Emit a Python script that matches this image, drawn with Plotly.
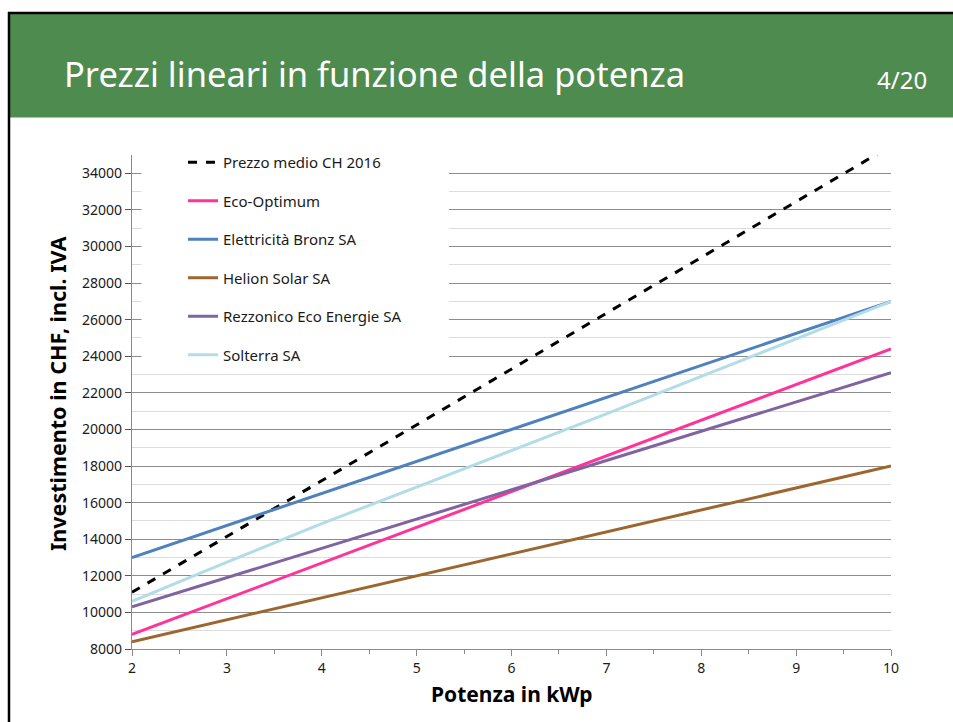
import plotly.graph_objects as go

# ---- data ----
potenza_kwp = [2, 3, 4, 5, 6, 7, 8, 9, 10]
prezzo_medio_ch_2016 = [11100, 14150, 17200, 20250, 23300, 26350, 29400, 32450, 35500]
eco_optimum = [8800, 10750, 12700, 14650, 16600, 18550, 20500, 22450, 24400]
elettricita_bronz = [13000, 14750, 16500, 18250, 20000, 21750, 23500, 25250, 27000]
helion_solar = [8400, 9600, 10800, 12000, 13200, 14400, 15600, 16800, 18000]
rezzonico_eco = [10300, 11900, 13500, 15100, 16700, 18300, 19900, 21500, 23100]
solterra = [10600, 12750, 14850, 16850, 18850, 20850, 22900, 24950, 27000]

series_names = ["Prezzo medio CH 2016", "Eco-Optimum", "Elettricità Bronz SA",
                "Helion Solar SA", "Rezzonico Eco Energie SA", "Solterra SA"]
series_values = [prezzo_medio_ch_2016, eco_optimum, elettricita_bronz,
                 helion_solar, rezzonico_eco, solterra]
series_colors = ["#000000", "#FF3399", "#4F81BD", "#9C6630", "#8064A2", "#B2DCE8"]
series_dash = ["dash", "solid", "solid", "solid", "solid", "solid"]

x_ticks = [2, 3, 4, 5, 6, 7, 8, 9, 10]
y_ticks = list(range(8000, 34001, 2000))

PAGE_W, PAGE_H = 953, 722
W, H = PAGE_W, PAGE_H
# plot area in page pixels
PL, PR, PT, PB = 132, 891, 155, 649
L, T = PL, PT
R, B = PAGE_W - PR, PAGE_H - PB
PW, PH = PR - PL, PB - PT


def px(xp):
    return (xp - PL) / PW


def py(yp):
    return (PB - yp) / PH


fig = go.Figure()
for i, (name, vals, col, dash) in enumerate(zip(series_names, series_values, series_colors, series_dash)):
    fig.add_trace(go.Scatter(
        x=potenza_kwp, y=vals, mode="lines", name=name,
        line=dict(color=col, width=3, dash=dash),
        legendgroup=f"g{i}",
    ))

shapes = [
    # white legend box hiding gridlines
    dict(type="rect", xref="x", yref="y", x0=2.1, x1=5.34, y0=23150, y1=35000,
         fillcolor="white", line=dict(width=0), layer="between"),
    # green header
    dict(type="rect", xref="paper", yref="paper", x0=px(9.5), x1=px(953), y0=py(117.5), y1=py(14),
         fillcolor="#4E8B4F", line=dict(width=0), layer="above"),
    # black frame lines
    dict(type="line", xref="paper", yref="paper", x0=px(8), x1=px(953), y0=py(13), y1=py(13),
         line=dict(color="black", width=2.5), layer="above"),
    dict(type="line", xref="paper", yref="paper", x0=px(9), x1=px(9), y0=py(12), y1=py(722),
         line=dict(color="black", width=2.5), layer="above"),
]

annotations = [
    dict(text="Prezzi lineari in funzione della potenza", xref="paper", yref="paper",
         x=px(62), y=py(73), xanchor="left", yanchor="middle", showarrow=False,
         font=dict(family="Noto Sans", size=34.5, color="white")),
    dict(text="4/20", xref="paper", yref="paper",
         x=px(929), y=py(80), xanchor="right", yanchor="middle", showarrow=False,
         font=dict(family="Noto Sans", size=24, color="white")),
    dict(text="<b>Investimento in CHF, incl. IVA</b>", xref="paper", yref="paper",
         x=px(57), y=py(394), xanchor="center", yanchor="middle", showarrow=False, textangle=-90,
         font=dict(family="Noto Sans", size=21.5, color="black")),
    dict(text="<b>Potenza in kWp</b>", xref="paper", yref="paper",
         x=px(512), y=py(694), xanchor="center", yanchor="middle", showarrow=False,
         font=dict(family="Noto Sans", size=21, color="black")),
]

fig.update_layout(
    width=W, height=H,
    margin=dict(l=L, r=R, t=T, b=B, pad=0),
    paper_bgcolor="white", plot_bgcolor="white",
    shapes=shapes, annotations=annotations,
    showlegend=True,
    legend=dict(x=px(183), y=py(146), xanchor="left", yanchor="top",
                bgcolor="rgba(0,0,0,0)", borderwidth=0, itemwidth=30,
                tracegroupgap=16,
                font=dict(family="Noto Sans", size=15, color="#1a1a1a")),
    xaxis=dict(range=[2, 10], tickvals=x_ticks, ticktext=[str(v) for v in x_ticks],
               showgrid=False, zeroline=False, showline=True, linecolor="#8a8a8a", linewidth=1.2,
               ticks="outside", ticklen=6, tickcolor="#8a8a8a",
               minor=dict(dtick=0.5, ticks="outside", ticklen=4, tickcolor="#8a8a8a", showgrid=False),
               tickfont=dict(family="Noto Sans", size=14, color="#1a1a1a")),
    yaxis=dict(range=[8000, 35000], tickvals=y_ticks, ticktext=[str(v) for v in y_ticks],
               showgrid=True, gridcolor="#8c8c8c", gridwidth=1.2,
               zeroline=False, showline=True, linecolor="#8a8a8a", linewidth=1.2,
               ticks="outside", ticklen=6, tickcolor="#555555",
               minor=dict(dtick=1000, showgrid=True, gridcolor="#dcdcdc", gridwidth=1.2),
               tickfont=dict(family="Noto Sans", size=14, color="#1a1a1a")),
)

fig.write_html("out.html",
               config={"displayModeBar": False},
               post_script="document.body.style.margin='0';document.body.style.overflow='hidden';")
